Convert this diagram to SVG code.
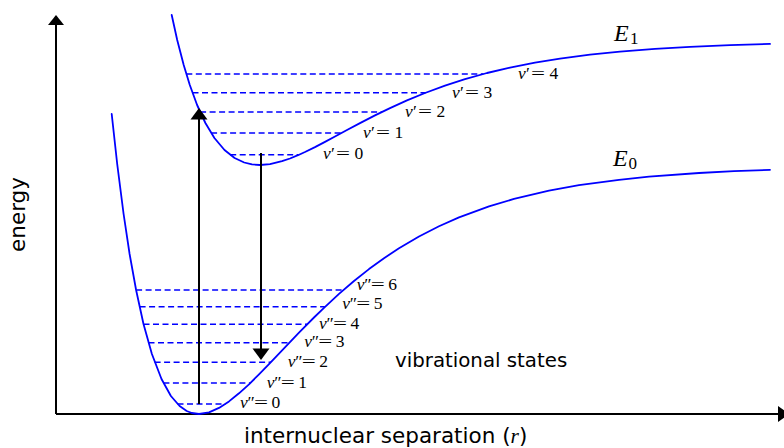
<svg xmlns="http://www.w3.org/2000/svg" width="784" height="448" viewBox="0 0 784 448">
<style>
.curve{fill:none;stroke:#0000ff;stroke-width:1.8;stroke-linejoin:round;stroke-linecap:round}
.level{stroke:#0000ff;stroke-width:1.6;stroke-dasharray:6 3.5;fill:none}
.axis{stroke:#000;stroke-width:2;fill:none}
.arrow{stroke:#000;stroke-width:2;fill:none}
.head{fill:#000;stroke:none}
.math{font-family:"Liberation Serif","DejaVu Serif",serif;font-size:17.5px;fill:#000}
.mi{font-style:italic}
.big{font-size:24px}
.sub{font-size:17px;font-style:normal}
.sans{font-family:"DejaVu Sans","Liberation Sans",sans-serif;fill:#000}
</style>
<rect width="784" height="448" fill="#fff"/>
<g id="axes">
<path class="axis" d="M56,414 V24 M56,414 H779"/>
<polygon class="head" points="56,15 48,25 64,25"/>
<polygon class="head" points="789,414 778,406 778,422"/>
</g>
<g id="curve-E0">
<polyline class="curve" points="111.7,114 117.2,164 123.6,214 129.6,254 136.1,290 143.5,324 151.9,354 161.5,379 170.9,396 179.6,406 186.7,411 191.8,413 199,414 209,412.35 219,407.9 229,401.4 239,393.3 249,384.3 259,374.4 269,364.1 279,353.6 289,343.1 299,332.7 314,317.5 324,307.8 339,293.9 354,281 369,269.1 384,258.2 399,248.3 419,236.5 439,226.3 459,217.4 489,206.4 514,198.9 549,190.6 579,185.2 619,179.8 649,176.7 699,173 734,171.2 770,169.8"/>
</g>
<g id="curve-E1">
<polyline class="curve" points="171.7,15 177.2,40 183.7,65 189.8,85 197.1,105 205.4,123 214.4,138 224.5,150 234.6,158 244.2,162.5 252,164.4 260,165 270,164.1 282,161.2 290,158.5 298,155.2 305,152 315,147.1 325,141.9 335,136.5 347,130 360,123.1 375,115.4 390,108.1 407,100.4 425,93 445,85.6 465,79.2 487,73 510,67.6 535,62.6 560,58.6 590,54.6 620,51.6 655,48.9 690,46.8 730,45.1 770,43.9"/>
</g>
<g id="levels-E1">
<line class="level" x1="230.2" y1="154.7" x2="298.4" y2="154.7"/>
<line class="level" x1="211.1" y1="133" x2="341.5" y2="133"/>
<line class="level" x1="200.1" y1="112" x2="381.9" y2="112"/>
<line class="level" x1="192.5" y1="92.7" x2="425.7" y2="92.7"/>
<line class="level" x1="186.3" y1="74" x2="483.3" y2="74"/>
</g>
<g id="levels-E0">
<line class="level" x1="177.5" y1="404" x2="225.4" y2="404"/>
<line class="level" x1="163.4" y1="383" x2="250.3" y2="383"/>
<line class="level" x1="154.6" y1="362.3" x2="271" y2="362.3"/>
<line class="level" x1="148.5" y1="342.7" x2="289.4" y2="342.7"/>
<line class="level" x1="143.5" y1="324.3" x2="307.5" y2="324.3"/>
<line class="level" x1="139.6" y1="306.7" x2="324.8" y2="306.7"/>
<line class="level" x1="136.1" y1="290" x2="343.5" y2="290"/>
</g>
<g id="connectors">
<line class="arrow" x1="199" y1="404" x2="199" y2="118"/>
<polygon class="head" points="199,108 190.5,119.5 207.5,119.5"/>
<line class="arrow" x1="261" y1="153" x2="261" y2="350"/>
<polygon class="head" points="261,360 252.5,348.5 269.5,348.5"/>
</g>
<g id="labels-E1-levels" class="math">
<text y="159"><tspan x="323" class="mi">v</tspan><tspan x="331">′</tspan><tspan x="336" textLength="14" lengthAdjust="spacingAndGlyphs">=</tspan><tspan x="354.5">0</tspan></text>
<text y="138"><tspan x="363" class="mi">v</tspan><tspan x="371">′</tspan><tspan x="376" textLength="14" lengthAdjust="spacingAndGlyphs">=</tspan><tspan x="394.5">1</tspan></text>
<text y="117"><tspan x="405" class="mi">v</tspan><tspan x="413">′</tspan><tspan x="418" textLength="14" lengthAdjust="spacingAndGlyphs">=</tspan><tspan x="436.5">2</tspan></text>
<text y="98"><tspan x="452" class="mi">v</tspan><tspan x="460">′</tspan><tspan x="465" textLength="14" lengthAdjust="spacingAndGlyphs">=</tspan><tspan x="483.5">3</tspan></text>
<text y="79"><tspan x="518" class="mi">v</tspan><tspan x="526">′</tspan><tspan x="531" textLength="14" lengthAdjust="spacingAndGlyphs">=</tspan><tspan x="549.5">4</tspan></text>
</g>
<g id="labels-E0-levels" class="math">
<text y="408.3"><tspan x="240" class="mi">v</tspan><tspan x="247.5">″</tspan><tspan x="254" textLength="14" lengthAdjust="spacingAndGlyphs">=</tspan><tspan x="271.5">0</tspan></text>
<text y="387.7"><tspan x="266.7" class="mi">v</tspan><tspan x="274.2">″</tspan><tspan x="280.7" textLength="14" lengthAdjust="spacingAndGlyphs">=</tspan><tspan x="298.2">1</tspan></text>
<text y="366.7"><tspan x="287.7" class="mi">v</tspan><tspan x="295.2">″</tspan><tspan x="301.7" textLength="14" lengthAdjust="spacingAndGlyphs">=</tspan><tspan x="319.2">2</tspan></text>
<text y="347.3"><tspan x="304.3" class="mi">v</tspan><tspan x="311.8">″</tspan><tspan x="318.3" textLength="14" lengthAdjust="spacingAndGlyphs">=</tspan><tspan x="335.8">3</tspan></text>
<text y="329.3"><tspan x="319" class="mi">v</tspan><tspan x="326.5">″</tspan><tspan x="333" textLength="14" lengthAdjust="spacingAndGlyphs">=</tspan><tspan x="350.5">4</tspan></text>
<text y="309.3"><tspan x="342.3" class="mi">v</tspan><tspan x="349.8">″</tspan><tspan x="356.3" textLength="14" lengthAdjust="spacingAndGlyphs">=</tspan><tspan x="373.8">5</tspan></text>
<text y="290"><tspan x="356.7" class="mi">v</tspan><tspan x="364.2">″</tspan><tspan x="370.7" textLength="14" lengthAdjust="spacingAndGlyphs">=</tspan><tspan x="388.2">6</tspan></text>
</g>
<g id="label-E1" class="math">
<text x="614" y="40.7" class="big mi">E<tspan class="sub" x="630" y="43.5">1</tspan></text>
</g>
<g id="label-E0" class="math">
<text x="613" y="165.7" class="big mi">E<tspan class="sub" x="628.5" y="168.5">0</tspan></text>
</g>
<g id="label-energy">
<text class="sans" font-size="21.5" text-anchor="middle" transform="translate(24.5,214.5) rotate(-90)">energy</text>
</g>
<g id="label-x">
<text class="sans" font-size="21.5" x="244" y="443">internuclear separation (<tspan font-family="Liberation Serif, DejaVu Serif, serif" font-style="italic">r</tspan>)</text>
</g>
<g id="label-vib">
<text class="sans" font-size="19.8" x="395" y="367">vibrational states</text>
</g>
</svg>
